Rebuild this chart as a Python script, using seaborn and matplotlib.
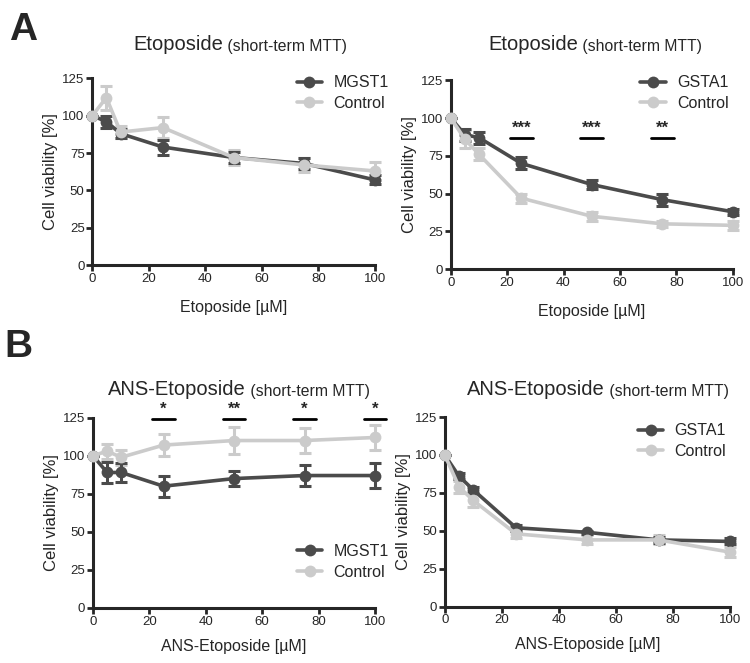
import numpy as np
import pandas as pd
import matplotlib
matplotlib.use("Agg")
import matplotlib.pyplot as plt
import seaborn as sns

sns.set_style("ticks")
plt.rcParams['font.family'] = ['Liberation Sans', 'DejaVu Sans']

dose = [0, 5, 10, 25, 50, 75, 100]

# A left: Etoposide, MGST1 vs control
a1_mgst1 = [100, 96, 88, 79, 72, 68, 57]
a1_mgst1_err = [0, 4, 3, 5, 4, 4, 3]
a1_ctrl = [100, 112, 89, 92, 72, 67, 63]
a1_ctrl_err = [0, 8, 4, 7, 5, 5, 6]

# A right: Etoposide, GSTA1 vs control
a2_gsta1 = [100, 89, 87, 70, 56, 46, 38]
a2_gsta1_err = [0, 4, 4, 4, 3, 4, 2]
a2_ctrl = [100, 86, 76, 47, 35, 30, 29]
a2_ctrl_err = [0, 6, 4, 3, 3, 2, 3]
a2_sig_x = [25, 50, 75]
a2_sig = ['***', '***', '**']

# B left: ANS-Etoposide, MGST1 vs control
b1_mgst1 = [100, 89, 89, 80, 85, 87, 87]
b1_mgst1_err = [0, 7, 6, 7, 5, 7, 8]
b1_ctrl = [100, 103, 99, 107, 110, 110, 112]
b1_ctrl_err = [0, 5, 5, 7, 9, 8, 8]
b1_sig_x = [25, 50, 75, 100]
b1_sig = ['*', '**', '*', '*']

# B right: ANS-Etoposide, GSTA1 vs control
b2_gsta1 = [100, 86, 77, 52, 49, 44, 43]
b2_gsta1_err = [0, 2, 2, 2, 1, 2, 2]
b2_ctrl = [100, 79, 70, 48, 44, 44, 36]
b2_ctrl_err = [0, 4, 4, 3, 3, 3, 3]

DARK = '#4b4b4b'
LIGHT = '#cbcbcb'


def panel(ax, gene, y_gene, e_gene, y_ctrl, e_ctrl, drug, leg_anchor, xpad):
    df = pd.DataFrame({
        'dose': dose * 2,
        'val': y_gene + y_ctrl,
        'group': [gene] * len(dose) + ['Control'] * len(dose),
    })
    # error bars drawn by hand (SEM values)
    for yv, ev, col, z in [(y_ctrl, e_ctrl, LIGHT, 3), (y_gene, e_gene, DARK, 4)]:
        ax.errorbar(dose, yv, yerr=ev, fmt='none', ecolor=col, elinewidth=2.2,
                    capsize=4, capthick=2.2, zorder=z, clip_on=False)
    sns.lineplot(data=df, x='dose', y='val', hue='group', hue_order=[gene, 'Control'],
                 palette=[DARK, LIGHT], marker='o', markersize=8.5, markeredgewidth=0,
                 linewidth=2.6, ax=ax, errorbar=None, clip_on=False, zorder=5)
    ax.set_xlim(0, 100)
    ax.set_ylim(0, 125)
    ax.set_xticks([0, 20, 40, 60, 80, 100])
    ax.set_yticks([0, 25, 50, 75, 100, 125])
    ax.tick_params(width=2, length=4, labelsize=9.5, pad=1.5)
    for s in ['left', 'bottom']:
        ax.spines[s].set_linewidth(2.2)
    sns.despine(ax=ax)
    ax.set_xlabel(drug + ' [µM]', fontsize=11.5, labelpad=xpad)
    ax.set_ylabel('Cell viability [%]', fontsize=12, labelpad=3)
    ax.legend(loc='upper left', bbox_to_anchor=leg_anchor, frameon=False, fontsize=11.5,
              handlelength=1.6, borderaxespad=0, labelspacing=0.35, handletextpad=0.7)


def title(x, y, drug):
    t = fig.text(x, y, drug, fontsize=14.5, ha='left', va='baseline')
    plt.annotate(' (short-term MTT)', xy=(1, 0), xycoords=t, fontsize=11.3, ha='left', va='bottom')


def sig_marks(ax, xs, labels, y):
    for x, lab in zip(xs, labels):
        ax.plot([x - 4, x + 4], [y, y], color='black', lw=2, clip_on=False)
        ax.text(x, y + 1.5, lab, ha='center', va='bottom', fontsize=12, fontweight='bold')


fig = plt.figure(figsize=(7.5, 6.63), dpi=100)
ax1 = fig.add_axes([0.123, 0.600, 0.377, 0.282])
ax2 = fig.add_axes([0.601, 0.594, 0.376, 0.285])
ax3 = fig.add_axes([0.124, 0.083, 0.376, 0.287])
ax4 = fig.add_axes([0.593, 0.085, 0.380, 0.286])

panel(ax1, 'MGST1', a1_mgst1, a1_mgst1_err, a1_ctrl, a1_ctrl_err, 'Etoposide', (0.70, 1.05), 11)
panel(ax2, 'GSTA1', a2_gsta1, a2_gsta1_err, a2_ctrl, a2_ctrl_err, 'Etoposide', (0.65, 1.06), 11)
panel(ax3, 'MGST1', b1_mgst1, b1_mgst1_err, b1_ctrl, b1_ctrl_err, 'ANS-Etoposide', (0.70, 0.37), 8)
panel(ax4, 'GSTA1', b2_gsta1, b2_gsta1_err, b2_ctrl, b2_ctrl_err, 'ANS-Etoposide', (0.655, 1.0), 8)

title(133 / 750, 1 - 50 / 663, 'Etoposide')
title(488 / 750, 1 - 50 / 663, 'Etoposide')
title(108 / 750, 1 - 395 / 663, 'ANS-Etoposide')
title(467 / 750, 1 - 395 / 663, 'ANS-Etoposide')

sig_marks(ax2, a2_sig_x, a2_sig, 87)
sig_marks(ax3, b1_sig_x, b1_sig, 124)

fig.text(0.012, 0.94, 'A', fontsize=28, fontweight='bold', va='baseline')
fig.text(0.006, 0.462, 'B', fontsize=28, fontweight='bold', va='baseline')

fig.savefig('out.png', dpi=100)
